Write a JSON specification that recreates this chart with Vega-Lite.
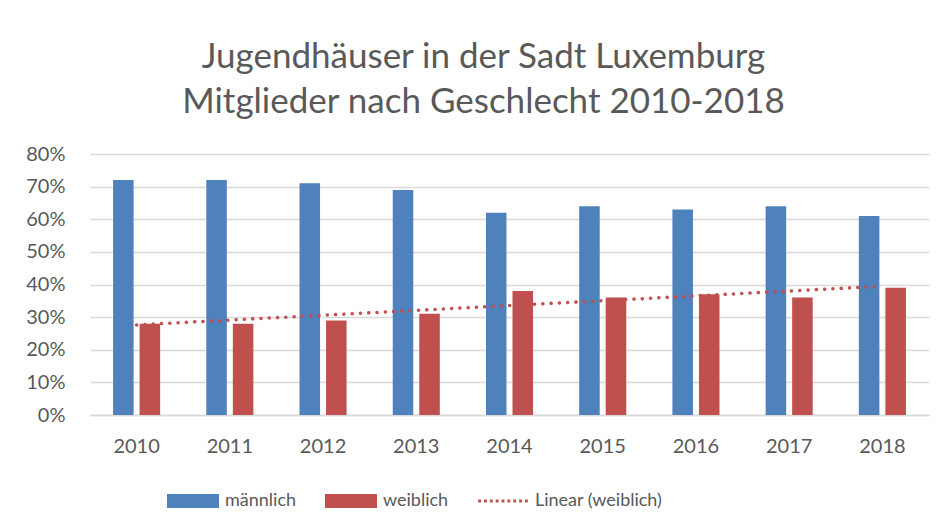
{
  "$schema": "https://vega.github.io/schema/vega-lite/v6.json",
  "autosize": "none",
  "width": 839,
  "height": 261,
  "padding": {"left": 90, "top": 154, "right": 16, "bottom": 116},
  "background": "white",
  "title": {
    "text": ["Jugendhäuser in der Sadt Luxemburg", "Mitglieder nach Geschlecht 2010-2018"],
    "anchor": "middle",
    "frame": "group",
    "dx": -26,
    "font": "Lato",
    "fontSize": 35,
    "fontWeight": "normal",
    "lineHeight": 45,
    "color": "#595959",
    "offset": 24
  },
  "config": {
    "view": {"stroke": null},
    "font": "Lato",
    "axis": {
      "labelFont": "Lato",
      "labelFontSize": 20,
      "labelColor": "#595959",
      "ticks": false,
      "title": null,
      "labelOverlap": false
    }
  },
  "data": {
    "values": [
      {"year": 2010, "series": "männlich", "value": 0.72},
      {"year": 2011, "series": "männlich", "value": 0.72},
      {"year": 2012, "series": "männlich", "value": 0.71},
      {"year": 2013, "series": "männlich", "value": 0.69},
      {"year": 2014, "series": "männlich", "value": 0.62},
      {"year": 2015, "series": "männlich", "value": 0.64},
      {"year": 2016, "series": "männlich", "value": 0.63},
      {"year": 2017, "series": "männlich", "value": 0.64},
      {"year": 2018, "series": "männlich", "value": 0.61},
      {"year": 2010, "series": "weiblich", "value": 0.28},
      {"year": 2011, "series": "weiblich", "value": 0.28},
      {"year": 2012, "series": "weiblich", "value": 0.29},
      {"year": 2013, "series": "weiblich", "value": 0.31},
      {"year": 2014, "series": "weiblich", "value": 0.38},
      {"year": 2015, "series": "weiblich", "value": 0.36},
      {"year": 2016, "series": "weiblich", "value": 0.37},
      {"year": 2017, "series": "weiblich", "value": 0.36},
      {"year": 2018, "series": "weiblich", "value": 0.39}
    ]
  },
  "layer": [
    {
      "mark": {"type": "bar"},
      "encoding": {
        "x": {
          "field": "year",
          "type": "ordinal",
          "scale": {"paddingInner": 0.495, "paddingOuter": 0.2475},
          "axis": {
            "labelAngle": 0,
            "labelPadding": 21,
            "domain": true,
            "domainColor": "#d9d9d9",
            "domainWidth": 1.5,
            "grid": false
          }
        },
        "xOffset": {
          "field": "series",
          "type": "nominal",
          "scale": {"paddingInner": 0.226, "paddingOuter": 0}
        },
        "y": {
          "field": "value",
          "type": "quantitative",
          "scale": {"domain": [0, 0.8], "nice": false},
          "axis": {
            "format": ".0%",
            "values": [0, 0.1, 0.2, 0.3, 0.4, 0.5, 0.6, 0.7, 0.8],
            "tickCount": 9,
            "domain": false,
            "grid": true,
            "gridColor": "#d9d9d9",
            "gridWidth": 1.5,
            "labelPadding": 25
          }
        },
        "color": {
          "field": "series",
          "type": "nominal",
          "scale": {
            "domain": ["männlich", "weiblich", "Linear (weiblich)"],
            "range": ["#4f81bd", "#c0504d", "#c0504d"]
          },
          "legend": {
            "orient": "none",
            "legendX": 77,
            "legendY": 321,
            "padding": 0,
            "direction": "horizontal",
            "title": null,
            "symbolType": "M-1,-0.27L1,-0.27L1,0.27L-1,0.27Z",
            "symbolSize": 2704,
            "labelFont": "Lato",
            "labelFontSize": 18,
            "labelColor": "#595959",
            "labelOffset": 6,
            "columnPadding": 28,
            "labelLimit": 300,
            "encode": {
              "symbols": {
                "update": {
                  "shape": {"signal": "datum.value == 'Linear (weiblich)' ? 'M-0.955,-0.055h0.11v0.11h-0.11Z M-0.73,-0.055h0.11v0.11h-0.11Z M-0.505,-0.055h0.11v0.11h-0.11Z M-0.28,-0.055h0.11v0.11h-0.11Z M-0.055,-0.055h0.11v0.11h-0.11Z M0.17,-0.055h0.11v0.11h-0.11Z M0.395,-0.055h0.11v0.11h-0.11Z M0.62,-0.055h0.11v0.11h-0.11Z M0.845,-0.055h0.11v0.11h-0.11Z' : 'M-1,-0.27L1,-0.27L1,0.27L-1,0.27Z'"},
                  "fill": {"scale": "color", "field": "value"},
                  "stroke": {"value": "transparent"},
                  "strokeWidth": {"value": 0},
                  "opacity": {"value": 1},
                  "fillOpacity": {"value": 1}
                }
              }
            }
          }
        }
      }
    },
    {
      "transform": [
        {"filter": "datum.series == 'weiblich'"},
        {"regression": "value", "on": "year", "method": "linear"}
      ],
      "mark": {"type": "line", "strokeWidth": 3.5, "strokeCap": "round", "strokeDash": [0.1, 8.2]},
      "encoding": {
        "x": {
          "field": "year",
          "type": "quantitative",
          "scale": {"domain": [2009.5, 2018.5], "nice": false, "zero": false},
          "axis": null
        },
        "y": {"field": "value", "type": "quantitative"},
        "color": {"datum": "Linear (weiblich)"}
      }
    }
  ],
  "resolve": {"scale": {"x": "independent"}}
}
